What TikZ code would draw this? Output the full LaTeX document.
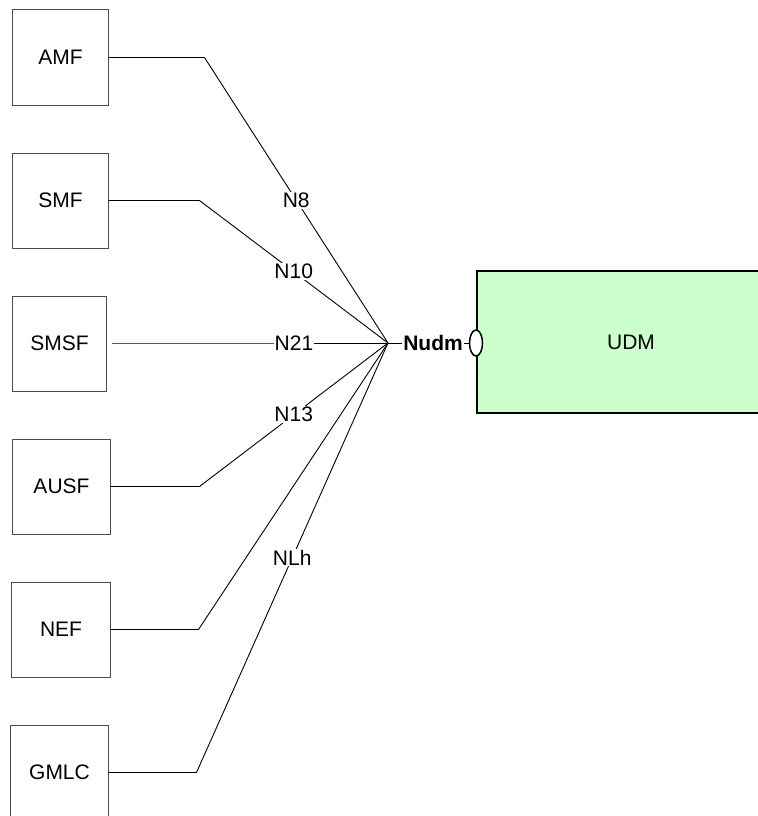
\documentclass[tikz,border=0pt]{standalone}
\usepackage{fontspec}
\setmainfont{Liberation Sans}
\usetikzlibrary{shapes.geometric}
\begin{document}
\begin{tikzpicture}[x=1bp,y=-1bp,
  nf/.style={draw=black!70,line width=1bp,minimum width=95bp,minimum height=95bp,inner sep=0pt,font=\fontsize{21bp}{25bp}\selectfont},
  conn/.style={line width=0.9bp,black},
  lbl/.style={fill=white,inner sep=1bp,font=\fontsize{21bp}{25bp}\selectfont}]
\useasboundingbox (0,0) rectangle (758,816);
% network functions
\node[nf] (amf)  at (60.5,57.5)  {AMF};
\node[nf] (smf)  at (60.5,200.5) {SMF};
\node[nf,minimum width=93bp] (smsf) at (59.5,343.5) {SMSF};
\node[nf,minimum width=97bp] (ausf) at (61.5,486.5) {AUSF};
\node[nf,minimum width=98bp] (nef)  at (61,629.5)  {NEF};
\node[nf,minimum width=97bp] (gmlc) at (59.5,772.5) {GMLC};
% hub
\coordinate (hub) at (388,343);
\coordinate (smsfstart) at (112,343);
% UDM
\node[draw=black,line width=2.5bp,fill={rgb,255:red,204;green,255;blue,204},minimum width=308bp,minimum height=142bp,font=\fontsize{21bp}{25bp}\selectfont] (udm) at (631,342) {UDM};
\node[ellipse,draw=black,line width=1.5bp,fill=white,minimum width=13bp,minimum height=26bp,inner sep=0pt] (port) at (476,343) {};
\node[inner sep=1bp,font=\bfseries\fontsize{21bp}{25bp}\selectfont] (nudm) at (433,343) {Nudm};
% connectors
\draw[conn] (amf.east) -- ++(96,0) -- node[lbl]{N8} (hub);
\draw[conn] (smf.east) -- ++(91,0) -- node[lbl]{N10} (hub);
\draw[conn] (smsfstart) -- (200,343) -- node[lbl,inner sep=0.3bp]{N21} (hub);
\draw[conn] (ausf.east) -- ++(89,0) -- node[lbl]{N13} (hub);
\draw[conn] (nef.east) -- ++(88,0) -- (hub);
\draw[conn] (gmlc.east) -- ++(88,0) -- node[lbl]{NLh} (hub);
\draw[conn] (hub) -- (nudm.west);
\draw[conn] (nudm.east) -- (port.west);
\end{tikzpicture}
\end{document}
